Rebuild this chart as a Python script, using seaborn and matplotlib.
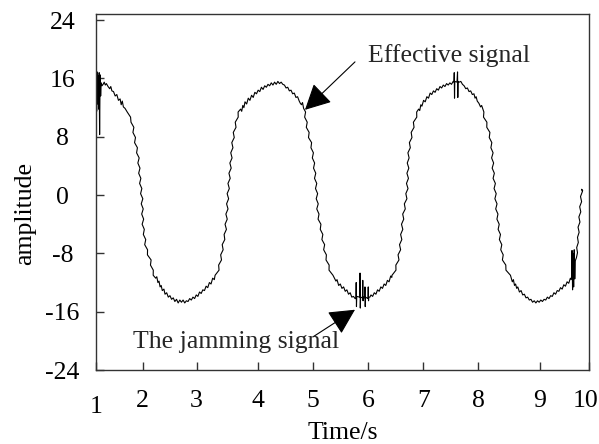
import matplotlib
matplotlib.use("Agg")
import matplotlib.pyplot as plt
import matplotlib.transforms as mtransforms
import seaborn as sns
import pandas as pd

# x tick labels sit at uneven positions in the original figure
tick_pos = [1, 1.853, 2.838, 3.963, 4.956, 5.971, 6.975, 7.979, 9.106, 10]
tick_lab = ["1", "2", "3", "4", "5", "6", "7", "8", "9", "10"]
ytick_vals = [-24, -16, -8, 0, 8, 16, 24]

# signal, segment by segment (time, amplitude)
burst_start = [
    (1.000, 12.0), (1.005, 16.6), (1.012, 11.5), (1.022, 16.9), (1.030, 12.5),
    (1.040, 16.4), (1.048, 11.8), (1.058, 16.8), (1.066, 8.3), (1.075, 16.5),
    (1.085, 13.6), (1.095, 15.4), (1.11, 15.0),
]
fall_1 = [
    (1.13, 15.2), (1.15, 15.5), (1.17, 15.1), (1.19, 15.3),
    (1.22, 14.9), (1.25, 14.6), (1.27, 14.9), (1.29, 14.3), (1.32, 14.2), (1.35, 13.6),
    (1.38, 13.8), (1.41, 13.0), (1.44, 13.2), (1.46, 12.4), (1.48, 12.9), (1.50, 12.1),
    (1.53, 11.9), (1.57, 11.4), (1.631, 10.7), (1.639, 10.0), (1.691, 9.3), (1.674, 8.6),
    (1.721, 7.9), (1.704, 7.2), (1.756, 6.5), (1.741, 5.8), (1.788, 5.1), (1.764, 4.4),
    (1.803, 3.7), (1.779, 3.0), (1.819, 2.3), (1.796, 1.6), (1.837, 0.9), (1.814, 0.2),
    (1.855, -0.5), (1.826, -1.2), (1.862, -1.9), (1.834, -2.6), (1.870, -3.3), (1.842, -4.0),
    (1.882, -4.7), (1.864, -5.4), (1.908, -6.1), (1.889, -6.8), (1.941, -7.5), (1.939, -8.2),
    (2.006, -8.9), (1.994, -9.6), (2.046, -10.3), (2.044, -11.0),
    (2.09, -11.4), (2.11, -11.2), (2.13, -12.0),
    (2.15, -11.8), (2.17, -12.6), (2.19, -12.4), (2.21, -13.1), (2.24, -12.9), (2.26, -13.6),
    (2.29, -13.4), (2.32, -14.0), (2.35, -13.8), (2.38, -14.3), (2.41, -14.1),
]
trough_1 = [
    (2.44, -14.6), (2.47, -14.3), (2.50, -14.8), (2.53, -14.4), (2.56, -14.7), (2.59, -14.4),
    (2.62, -14.8), (2.65, -14.5), (2.68, -14.6), (2.71, -14.2), (2.74, -14.4), (2.77, -14.0),
    (2.80, -14.2), (2.83, -13.7), (2.86, -13.9), (2.89, -13.3), (2.92, -13.5), (2.95, -13.0),
    (2.98, -13.1), (3.01, -12.5), (3.04, -12.7), (3.07, -12.0),
]
rise_1 = [
    (3.10, -12.2), (3.13, -11.4), (3.16, -11.6),
    (3.174, -11.0), (3.246, -10.3), (3.239, -9.6), (3.291, -8.9), (3.276, -8.2), (3.321, -7.5),
    (3.304, -6.8), (3.351, -6.1), (3.339, -5.4), (3.381, -4.7), (3.356, -4.0), (3.396, -3.3),
    (3.371, -2.6), (3.410, -1.9), (3.384, -1.2), (3.421, -0.5), (3.394, 0.2), (3.434, 0.9),
    (3.409, 1.6), (3.450, 2.3), (3.427, 3.0), (3.468, 3.7), (3.444, 4.4), (3.484, 5.1),
    (3.460, 5.8), (3.500, 6.5), (3.479, 7.2), (3.524, 7.9), (3.506, 8.6), (3.556, 9.3),
    (3.542, 10.0), (3.596, 10.7), (3.594, 11.4),
    (3.64, 11.8), (3.66, 11.5), (3.68, 12.3),
    (3.70, 12.0), (3.72, 12.8), (3.75, 12.5), (3.78, 13.3), (3.81, 13.0), (3.84, 13.7),
    (3.87, 13.4), (3.90, 14.1), (3.93, 13.9), (3.96, 14.4), (3.99, 14.2), (4.02, 14.8),
    (4.05, 14.5), (4.08, 15.0), (4.11, 14.8), (4.14, 15.2), (4.17, 15.0),
]
peak_2 = [
    (4.20, 15.4), (4.23, 15.1), (4.26, 15.5), (4.29, 15.2), (4.32, 15.6), (4.35, 15.3),
    (4.38, 15.5), (4.41, 15.2), (4.44, 15.1), (4.47, 14.7), (4.50, 14.8), (4.53, 14.3),
    (4.56, 14.4), (4.59, 13.9), (4.62, 14.0), (4.65, 13.4), (4.68, 13.5), (4.71, 12.9),
    (4.73, 12.6), (4.75, 12.4), (4.77, 12.7), (4.79, 11.9),
]
fall_2 = [
    (4.826, 11.4), (4.809, 10.7), (4.856, 10.0), (4.839, 9.3), (4.891, 8.6), (4.879, 7.9),
    (4.936, 7.2), (4.924, 6.5), (4.969, 5.8), (4.949, 5.1), (4.991, 4.4), (4.971, 3.7),
    (5.012, 3.0), (4.989, 2.3), (5.030, 1.6), (5.007, 0.9), (5.046, 0.2), (5.020, -0.5),
    (5.057, -1.2), (5.030, -1.9), (5.071, -2.6), (5.054, -3.3), (5.106, -4.0), (5.094, -4.7),
    (5.141, -5.4), (5.124, -6.1), (5.174, -6.8), (5.156, -7.5), (5.206, -8.2), (5.199, -8.9),
    (5.256, -9.6), (5.254, -10.3), (5.326, -11.0),
    (5.38, -11.8), (5.40, -11.6), (5.43, -12.4), (5.46, -12.2), (5.49, -12.8), (5.52, -12.6),
    (5.55, -13.2), (5.58, -13.0), (5.61, -13.6), (5.64, -13.4), (5.67, -14.0), (5.70, -13.9),
    (5.73, -14.2),
]
burst_mid = [
    (5.745, -14.2), (5.75, -12.0), (5.755, -15.3), (5.76, -13.9), (5.815, -14.0),
    (5.82, -10.7), (5.825, -15.5), (5.83, -14.0), (5.865, -14.1), (5.87, -11.7),
    (5.875, -14.5), (5.88, -14.0), (5.905, -14.1), (5.91, -12.6), (5.915, -15.3),
    (5.92, -14.0), (5.965, -14.2), (5.97, -12.6), (5.975, -14.5), (5.98, -14.0),
    (6.00, -14.0),
]
rise_2 = [
    (6.02, -13.7), (6.05, -13.9), (6.08, -13.4), (6.11, -13.6), (6.14, -13.0), (6.17, -13.2),
    (6.20, -12.6), (6.23, -12.8), (6.26, -12.2), (6.29, -12.4), (6.32, -11.7), (6.35, -11.9),
    (6.38, -11.1), (6.40, -11.3),
    (6.404, -11.0), (6.476, -10.3), (6.474, -9.6), (6.531, -8.9), (6.514, -8.2), (6.561, -7.5),
    (6.541, -6.8), (6.583, -6.1), (6.561, -5.4), (6.601, -4.7), (6.577, -4.0), (6.618, -3.3),
    (6.599, -2.6), (6.646, -1.9), (6.629, -1.2), (6.676, -0.5), (6.656, 0.2), (6.696, 0.9),
    (6.668, 1.6), (6.704, 2.3), (6.676, 3.0), (6.711, 3.7), (6.682, 4.4), (6.716, 5.1),
    (6.694, 5.8), (6.738, 6.5), (6.721, 7.2), (6.768, 7.9), (6.754, 8.6), (6.806, 9.3),
    (6.794, 10.0), (6.856, 10.7), (6.854, 11.4),
    (6.89, 11.8), (6.91, 11.6), (6.93, 12.4),
    (6.95, 12.2), (6.98, 13.0), (7.01, 12.8), (7.04, 13.5), (7.07, 13.3), (7.10, 14.0),
    (7.13, 13.8), (7.16, 14.3), (7.19, 14.1), (7.22, 14.6), (7.25, 14.4), (7.28, 14.9),
    (7.31, 14.7), (7.34, 15.1), (7.37, 14.9), (7.40, 15.3), (7.43, 15.1), (7.46, 15.4),
    (7.49, 15.2), (7.52, 15.6),
]
burst_peak = [
    (7.535, 15.5), (7.54, 16.8), (7.545, 13.3), (7.55, 15.6),
    (7.59, 15.5), (7.60, 16.9), (7.605, 13.4), (7.61, 15.6),
]
fall_3 = [
    (7.63, 15.5), (7.66, 15.6), (7.69, 15.2), (7.72, 15.0), (7.75, 14.6), (7.78, 14.7),
    (7.81, 14.2), (7.84, 14.3), (7.87, 13.8), (7.90, 13.9), (7.92, 13.3), (7.94, 13.5),
    (7.96, 12.9), (7.99, 12.6), (8.02, 12.1), (8.04, 12.3),
    (8.081, 11.4), (8.074, 10.7), (8.136, 10.0), (8.134, 9.3), (8.191, 8.6), (8.179, 7.9),
    (8.226, 7.2), (8.209, 6.5), (8.249, 5.8), (8.222, 5.1), (8.259, 4.4), (8.232, 3.7),
    (8.272, 3.0), (8.249, 2.3), (8.291, 1.6), (8.267, 0.9), (8.306, 0.2), (8.282, -0.5),
    (8.321, -1.2), (8.297, -1.9), (8.338, -2.6), (8.319, -3.3), (8.361, -4.0), (8.341, -4.7),
    (8.384, -5.4), (8.364, -6.1), (8.408, -6.8), (8.389, -7.5), (8.434, -8.2), (8.419, -8.9),
    (8.481, -9.6), (8.484, -10.3), (8.566, -11.0),
    (8.60, -11.9), (8.62, -11.6), (8.64, -12.4), (8.66, -12.2), (8.68, -12.8), (8.70, -12.6),
]
trough_3 = [
    (8.73, -13.3), (8.76, -13.1), (8.79, -13.7), (8.82, -13.6), (8.85, -14.1), (8.88, -14.0),
    (8.91, -14.4), (8.94, -14.3), (8.97, -14.7), (9.00, -14.5), (9.03, -14.8), (9.06, -14.5),
    (9.09, -14.7), (9.12, -14.4), (9.15, -14.6), (9.18, -14.3), (9.21, -14.4), (9.24, -14.0),
    (9.27, -14.2), (9.30, -13.8), (9.33, -13.9), (9.36, -13.4), (9.39, -13.6), (9.42, -13.1),
    (9.45, -13.2), (9.48, -12.7), (9.51, -12.9), (9.54, -12.3), (9.57, -12.5), (9.60, -11.9),
    (9.63, -12.1), (9.66, -11.4), (9.675, -11.6),
]
burst_end = [
    (9.685, -11.2), (9.69, -7.6), (9.70, -13.0), (9.71, -8.0), (9.72, -12.6),
    (9.73, -7.5), (9.74, -11.5), (9.75, -9.0), (9.77, -8.6), (9.79, -7.9),
    (9.775, -7.2), (9.805, -6.5), (9.79, -5.8), (9.82, -5.1), (9.80, -4.4),
    (9.835, -3.7), (9.815, -3.0), (9.85, -2.3), (9.83, -1.6), (9.865, -0.9),
    (9.845, -0.2), (9.88, 0.5), (9.865, 0.8), (9.885, 0.6),
]

segments = [burst_start, fall_1, trough_1, rise_1, peak_2, fall_2, burst_mid,
            rise_2, burst_peak, fall_3, trough_3, burst_end]
df = pd.DataFrame([p for seg in segments for p in seg], columns=["time", "amp"])

sns.set_theme(style="ticks")
plt.rcParams["font.family"] = ["Liberation Serif", "DejaVu Serif"]
plt.rcParams["axes.unicode_minus"] = False

fig = plt.figure(figsize=(5.99, 4.44), dpi=100)
ax = fig.add_axes([96 / 599, 1 - 370 / 444, 493 / 599, 356 / 444])

sns.lineplot(data=df, x="time", y="amp", sort=False, estimator=None,
             color="black", linewidth=0.8, ax=ax)

ax.set_xlim(1, 10)
ax.set_ylim(-24, 24.85)
ax.set_xticks(tick_pos, tick_lab)
ax.set_yticks(ytick_vals)
ax.tick_params(direction="in", length=6, width=1, color="#333333",
               labelsize=18.5, labelcolor="black")
ax.tick_params(axis="x", pad=14.5)
ax.tick_params(axis="y", pad=24)
for lab in ax.get_yticklabels():
    lab.set_horizontalalignment("center")

# small offsets of single labels, as in the original
xlabs = ax.get_xticklabels()
xlabs[0].set_transform(xlabs[0].get_transform() +
                       mtransforms.ScaledTranslation(0, -4 / 72, fig.dpi_scale_trans))
xlabs[-1].set_transform(xlabs[-1].get_transform() +
                        mtransforms.ScaledTranslation(-3.5 / 100, 0, fig.dpi_scale_trans))

for s in ax.spines.values():
    s.set_visible(True)
    s.set_color("#333333")
    s.set_linewidth(1.0)

ax.set_xlabel("Time/s", fontsize=18.5, color="black")
ax.set_ylabel("amplitude", fontsize=18.5, color="black")
ax.xaxis.set_label_coords(0.5, -0.145)
ax.yaxis.set_label_coords(-0.144, 0.441)
ax.yaxis.label.set_verticalalignment("center")

arrow_kw = dict(arrowstyle="-|>,head_length=0.8,head_width=0.41", mutation_scale=20,
                color="black", lw=0.8, shrinkA=0, shrinkB=0)
ax.annotate("", xy=(4.815, 11.7), xytext=(5.728, 18.28), arrowprops=arrow_kw)
ax.text(5.966, 18.29, "Effective signal", fontsize=18.5, ha="left", va="baseline")

ax.annotate("", xy=(5.728, -15.73), xytext=(4.962, -19.45), arrowprops=arrow_kw)
ax.text(1.675, -20.95, "The jamming signal", fontsize=18.5, ha="left", va="baseline")

fig.savefig("out.png", dpi=100)
